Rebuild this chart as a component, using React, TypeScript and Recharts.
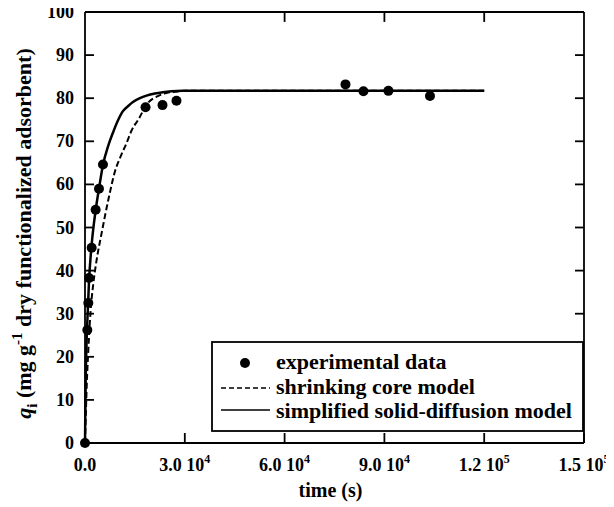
import { ComposedChart, Line, Scatter, XAxis, YAxis, Label, Legend, ReferenceLine } from 'recharts';

// experimental points (time in s, q in mg/g)
const expTime = [0, 700, 1000, 1200, 2000, 3200, 4200, 5400, 18200, 23300, 27500, 78300, 83700, 91200, 103700];
const expQ = [0, 26.2, 32.5, 38.3, 45.3, 54.1, 59, 64.6, 77.9, 78.4, 79.4, 83.2, 81.6, 81.7, 80.5];

// simplified solid-diffusion model
const ssdTime = [0, 200, 500, 800, 1200, 2000, 3200, 4200, 5400, 7000, 8400, 10000, 11400, 13000, 14400, 16500, 18500, 21000, 23400, 26000, 29400, 40000, 60000, 80000, 100000, 120000];
const ssdQ = [0, 14, 24, 30, 37.5, 46, 54, 59, 64.5, 69, 72, 75, 77, 78.2, 79.1, 80, 80.6, 81.1, 81.4, 81.6, 81.7, 81.7, 81.7, 81.7, 81.7, 81.7];

// shrinking core model
const scmTime = [0, 300, 600, 900, 1200, 1700, 2500, 3500, 5000, 7000, 9000, 11000, 12500, 14000, 16000, 18900, 21900, 24500, 27000, 30000, 40000, 60000, 80000, 100000, 120000];
const scmQ = [0, 8, 15, 20, 24.6, 30.8, 37, 42.5, 48.7, 56.4, 63, 67, 69.6, 72.5, 75, 78.9, 80.5, 81.2, 81.5, 81.7, 81.7, 81.7, 81.7, 81.7, 81.7];

const xTicks = [0, 30000, 60000, 90000, 120000, 150000];
const xTickMant = ['0.0', '3.0', '6.0', '9.0', '1.2', '1.5'];
const xTickExp = ['', '4', '4', '4', '5', '5'];
const yTicks = [0, 10, 20, 30, 40, 50, 60, 70, 80, 90, 100];

const legendItems = ['experimental data', 'shrinking core model', 'simplified solid-diffusion model'];

const expData = expTime.map((t, i) => ({ t, q: expQ[i] }));
const ssdData = ssdTime.map((t, i) => ({ t, q: ssdQ[i] }));
const scmData = scmTime.map((t, i) => ({ t, q: scmQ[i] }));

const FONT = '"Liberation Serif", "Times New Roman", serif';

function XTick(props: any) {
    const { x, y, payload } = props;
    const i = xTicks.indexOf(payload.value);
    return (
        <text x={x} y={y + 22} textAnchor="middle" fontFamily={FONT} fontWeight="bold" fontSize={18} fill="#000">
            {xTickMant[i]}
            {xTickExp[i] && (
                <>
                    <tspan> 10</tspan>
                    <tspan dy={-8} fontSize={12}>{xTickExp[i]}</tspan>
                </>
            )}
        </text>
    );
}

function YTick(props: any) {
    const { x, y, payload } = props;
    return (
        <text x={x} y={y + 6} textAnchor="end" fontFamily={FONT} fontWeight="bold" fontSize={18} fill="#000">
            {payload.value}
        </text>
    );
}

function XLabel(props: any) {
    const { viewBox } = props;
    const cx = viewBox.x + viewBox.width / 2 - 4;
    const cy = viewBox.y + viewBox.height - 10;
    return (
        <text x={cx} y={cy} textAnchor="middle" fontFamily={FONT} fontWeight="bold" fontSize={20} fill="#000">time (s)</text>
    );
}

function YLabel(props: any) {
    const { viewBox } = props;
    const cx = viewBox.x + 23;
    const cy = viewBox.y + viewBox.height / 2 + 6;
    return (
        <text transform={`translate(${cx},${cy}) rotate(-90)`} textAnchor="middle" fontFamily={FONT} fontWeight="bold" fontSize={22} fill="#000">
            <tspan fontStyle="italic">q</tspan>
            <tspan dy={6} fontSize={15}>i</tspan>
            <tspan dy={-6}> (mg g</tspan>
            <tspan dy={-9} fontSize={15}>-1</tspan>
            <tspan dy={9}> dry functionalized adsorbent)</tspan>
        </text>
    );
}

function LegendBox() {
    const rows = [28, 53, 77];
    return (
        <svg width={373} height={91} style={{ display: 'block' }}>
            <rect x={1} y={1} width={371} height={89} fill="#fff" stroke="#000" strokeWidth={1.8} />
            <circle cx={34} cy={22} r={5} fill="#000" />
            <line x1={10} x2={59} y1={47} y2={47} stroke="#000" strokeWidth={1.5} strokeDasharray="5 3" />
            <line x1={10} x2={59} y1={69} y2={69} stroke="#000" strokeWidth={1.5} />
            {legendItems.map((s, i) => (
                <text key={s} x={65} y={rows[i]} fontFamily={FONT} fontWeight="bold" fontSize={22} fill="#000">{s}</text>
            ))}
        </svg>
    );
}

export default function App() {
    return (
        <div style={{ marginTop: -8, marginLeft: -8 }}>
            <ComposedChart width={614} height={507} margin={{ top: 11, right: 29, bottom: 0, left: 8 }}>
                <XAxis
                    xAxisId="b"
                    type="number"
                    dataKey="t"
                    domain={[0, 150000]}
                    ticks={xTicks}
                    tick={<XTick />}
                    height={64}
                    tickSize={-10}
                    tickMargin={16}
                    stroke="#000"
                    strokeWidth={1.8}
                    interval={0}
                >
                    <Label content={<XLabel />} />
                </XAxis>
                <XAxis
                    xAxisId="top"
                    orientation="top"
                    type="number"
                    dataKey="t"
                    domain={[0, 150000]}
                    ticks={xTicks}
                    tick={false}
                    tickLine={false}
                    height={1}
                    stroke="#000"
                    strokeWidth={1.8}
                />
                <YAxis
                    yAxisId="l"
                    type="number"
                    domain={[0, 100]}
                    ticks={yTicks}
                    tick={<YTick />}
                    width={77}
                    tickSize={-9}
                    tickMargin={20}
                    stroke="#000"
                    strokeWidth={1.8}
                    interval={0}
                >
                    <Label content={<YLabel />} />
                </YAxis>
                <YAxis
                    yAxisId="r"
                    orientation="right"
                    type="number"
                    domain={[0, 100]}
                    ticks={yTicks}
                    tickFormatter={() => ''}
                    width={1}
                    tickSize={-9}
                    stroke="#000"
                    strokeWidth={1.8}
                    interval={0}
                />
                {/* inward tick marks along the top frame edge */}
                {xTicks.slice(1, -1).map((t) => (
                    <ReferenceLine
                        key={t}
                        xAxisId="b"
                        yAxisId="l"
                        segment={[{ x: t, y: 100 }, { x: t, y: 97.7 }]}
                        stroke="#000"
                        strokeWidth={1.8}
                    />
                ))}
                <Legend
                    verticalAlign="middle"
                    align="center"
                    layout="horizontal"
                    content={() => <LegendBox />}
                    wrapperStyle={{ position: 'absolute', left: 211, top: 341, width: 373, height: 91 }}
                />
                {/* invisible copy so the frame axes get a domain */}
                <Line
                    xAxisId="top"
                    yAxisId="r"
                    data={ssdData}
                    dataKey="q"
                    stroke="none"
                    dot={false}
                    activeDot={false}
                    legendType="none"
                    isAnimationActive={false}
                />
                <Line
                    xAxisId="b"
                    yAxisId="l"
                    data={scmData}
                    dataKey="q"
                    type="monotone"
                    stroke="#000"
                    strokeWidth={2}
                    strokeDasharray="6 3"
                    dot={false}
                    isAnimationActive={false}
                />
                <Line
                    xAxisId="b"
                    yAxisId="l"
                    data={ssdData}
                    dataKey="q"
                    type="monotone"
                    stroke="#000"
                    strokeWidth={2.5}
                    dot={false}
                    isAnimationActive={false}
                />
                <Scatter
                    xAxisId="b"
                    yAxisId="l"
                    data={expData}
                    dataKey="q"
                    fill="#000"
                    shape={(p: any) => <circle cx={p.cx} cy={p.cy} r={5} fill="#000" />}
                    isAnimationActive={false}
                />
            </ComposedChart>
        </div>
    );
}
